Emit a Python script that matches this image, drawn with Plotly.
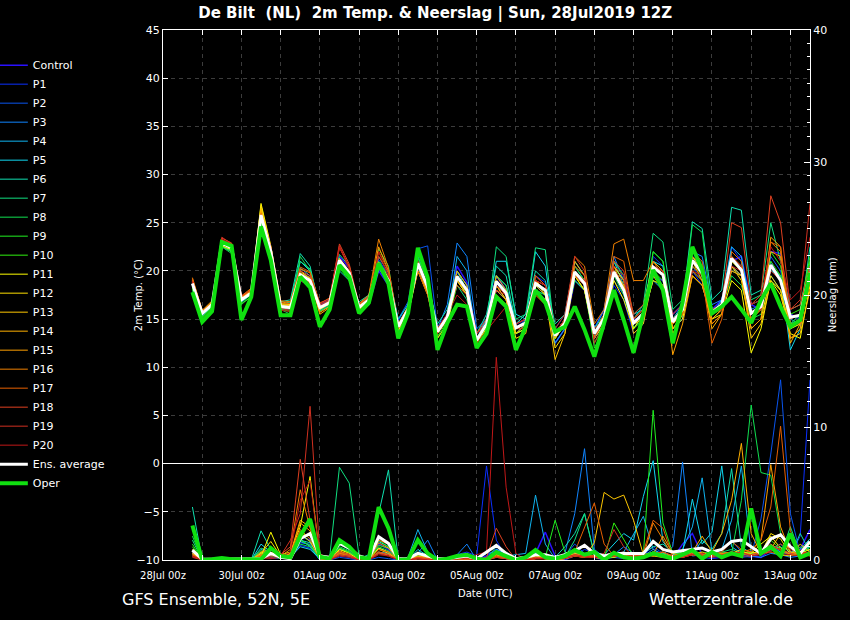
import plotly.graph_objects as go
import pandas as pd

# forecast steps, every 6 h from 28Jul 18Z to 13Aug 12Z
times = pd.date_range("2019-07-28 18:00", periods=64, freq="6h")

names = ["Control", "P1", "P2", "P3", "P4", "P5", "P6", "P7", "P8", "P9", "P10",
         "P11", "P12", "P13", "P14", "P15", "P16", "P17", "P18", "P19", "P20"]
colors = ["#2a10ff", "#0a30ff", "#0a55f0", "#1085ff", "#10b4f0", "#10d8f0", "#10e0b0",
          "#10e080", "#10e050", "#20f020", "#30f010", "#ffff00", "#ffe000", "#ffc800",
          "#ffb000", "#ffa000", "#f08000", "#e86000", "#e04020", "#d03020", "#c01818"]

# 2m temperature (C)
control_t = [18.8, 15.8,16.3,23.2,22.6, 17.2,17.5,25.6,22.3, 16.0,16.0,19.0,18.6, 16.5,17.0,21.5,20.3,
             16.0,16.5,20.0,18.5, 13.5,15.5,21.5,19.0, 14.0,15.5,20.5,18.8, 13.5,15.0,19.5,18.0,
             14.5,15.0,18.0,17.0, 12.5,14.0,19.0,18.0, 14.0,16.0,21.0,19.5, 15.0,15.0,19.5,19.0,
             15.5,16.5,21.5,20.5, 16.0,17.0,21.0,21.5, 16.5,16.0,22.0,21.8, 15.5,15.0,20.0]
p1_t = [18.6, 15.5,16.6,22.8,22.2, 16.8,17.9,25.9,21.8, 16.5,16.4,20.0,19.3, 15.8,16.4,20.5,19.2,
        16.6,17.4,21.2,19.6, 14.8,16.6,20.0,17.6, 13.0,14.6,19.8,18.6, 12.0,14.0,18.0,17.0,
        13.5,14.0,19.5,18.8, 14.0,15.5,21.0,19.5, 13.0,14.5,18.5,17.0, 13.5,14.5,21.5,20.5,
        14.0,15.0,20.0,18.5, 15.0,16.0,22.5,21.0, 15.0,17.0,21.0,19.0, 14.5,15.5,19.0]
p2_t = [18.9, 15.7,16.4,23.0,22.5, 17.0,17.6,25.5,22.1, 16.2,16.6,19.3,18.8, 16.0,16.5,20.8,19.5,
        16.4,17.2,20.8,19.3, 15.0,16.8,22.3,22.6, 14.0,15.0,19.0,17.5, 13.0,14.5,19.5,18.5,
        14.0,15.0,18.5,17.5, 13.5,15.0,20.5,19.0, 14.0,15.0,19.0,17.5, 15.0,16.0,21.0,20.0,
        14.5,15.5,20.5,19.0, 16.0,16.0,20.5,19.5, 15.5,16.5,21.5,20.0, 15.0,15.5,20.5]
p3_t = [18.5, 15.4,16.3,22.7,22.0, 16.9,17.8,25.7,21.9, 16.6,16.1,19.4,18.7, 16.0,16.9,21.0,19.6,
        16.3,17.0,20.3,18.6, 14.5,16.0,20.5,18.0, 14.0,16.5,22.9,21.5, 14.0,15.0,18.0,17.0,
        13.5,14.5,19.0,18.5, 13.0,14.5,20.5,19.0, 14.0,16.0,21.5,19.0, 14.5,15.0,19.5,18.5,
        15.0,16.0,22.0,21.5, 16.5,17.0,20.5,19.5, 16.0,16.5,19.5,18.0, 14.0,15.0,20.5]
p4_t = [18.7, 15.6,16.6,22.9,22.3, 17.1,17.7,25.9,22.2, 16.4,16.3,20.3,19.5, 15.9,16.3,20.9,19.4,
        16.1,16.8,20.3,18.8, 14.0,15.8,20.5,18.5, 13.5,15.0,21.5,20.0, 12.5,14.5,19.5,18.5,
        14.5,15.5,18.0,17.5, 12.5,14.0,19.5,18.5, 13.0,14.5,20.5,19.0, 14.0,15.5,19.0,18.0,
        14.0,15.0,21.0,20.0, 15.5,17.0,22.5,21.5, 15.5,16.0,20.5,19.0, 15.0,14.5,20.0]
p5_t = [18.6, 15.5,16.5,22.6,22.0, 16.9,17.8,25.4,21.7, 16.4,16.7,21.0,20.0, 16.4,16.8,20.5,19.3,
        16.5,17.3,20.9,19.2, 14.4,16.2,20.3,18.0, 13.8,15.5,20.0,18.5, 13.0,15.0,21.0,21.0,
        15.5,15.0,22.0,20.5, 13.5,14.5,20.0,19.0, 13.0,15.5,21.0,18.5, 15.5,16.0,21.0,20.5,
        15.0,16.5,21.5,20.0, 16.0,16.5,22.0,21.0, 16.5,17.0,20.0,19.5, 11.8,14.0,20.5]
p6_t = [18.5, 15.3,16.2,22.5,22.0, 16.7,17.6,25.2,21.5, 16.8,17.0,21.8,20.5, 16.0,16.5,20.0,19.0,
        16.8,17.5,21.5,19.8, 15.0,16.5,21.0,18.5, 14.5,16.0,20.0,18.0, 13.5,15.5,20.5,19.5,
        14.5,15.5,20.0,19.0, 14.5,15.5,21.0,19.5, 14.0,15.0,20.0,18.5, 15.0,16.5,21.0,20.0,
        15.5,16.5,25.1,24.4, 17.0,18.0,26.6,26.3, 17.5,18.0,20.5,19.5, 14.5,15.0,22.5]
p7_t = [18.4, 15.2,16.4,22.6,22.1, 16.8,17.5,25.3,21.6, 16.5,16.8,21.0,20.2, 16.3,16.6,21.7,20.5,
        16.3,16.9,21.0,19.5, 14.5,16.2,21.5,19.0, 13.5,15.0,18.5,17.0, 13.0,14.5,22.5,21.5,
        15.0,15.5,22.4,22.2, 13.0,14.5,19.0,18.0, 14.0,15.5,20.5,19.0, 15.5,16.5,23.9,23.0,
        16.0,17.0,21.0,19.5, 15.5,16.5,20.0,19.5, 17.0,17.5,25.0,21.0, 16.0,16.5,21.0]
p8_t = [18.0, 15.0,16.0,22.5,21.8, 16.5,17.4,25.0,21.3, 16.0,15.5,21.5,20.0, 16.2,16.5,20.6,19.4,
        16.4,17.1,22.3,20.5, 13.8,15.7,22.0,19.5, 13.5,15.0,19.5,18.0, 12.5,14.0,19.0,18.0,
        13.5,14.0,18.0,17.5, 13.5,15.0,19.0,18.0, 12.5,14.5,19.5,17.5, 14.0,15.0,22.0,21.0,
        15.0,16.0,24.8,24.0, 15.5,16.0,19.5,18.5, 15.0,15.5,19.0,18.0, 14.0,14.5,19.5]
p9_t = [18.2, 15.1,16.1,22.8,22.3, 17.0,17.5,25.1,21.6, 16.0,15.8,19.8,19.2, 15.8,16.4,20.3,19.0,
        15.8,16.5,20.5,18.9, 13.5,15.5,21.3,19.0, 13.0,14.5,18.5,17.5, 12.0,14.0,19.5,18.5,
        13.5,14.0,18.5,18.0, 13.0,15.0,20.5,19.0, 12.0,14.0,21.0,19.5, 14.0,15.0,22.0,21.0,
        14.0,15.5,22.0,21.0, 15.0,16.0,21.0,20.0, 15.0,16.0,22.0,20.5, 14.5,15.5,21.0]
p10_t = [18.3, 15.2,16.2,22.6,22.0, 16.6,17.3,25.5,21.8, 16.2,16.0,19.7,19.0, 16.1,16.6,21.0,19.9,
         16.0,16.7,20.7,19.0, 13.8,15.6,20.8,18.5, 13.2,14.8,19.0,17.8, 12.5,14.2,19.0,17.5,
         14.0,14.5,19.5,18.5, 13.0,14.5,19.5,18.0, 13.5,15.0,20.0,18.5, 14.5,15.5,20.0,19.0,
         14.5,16.0,20.5,19.5, 15.5,16.5,21.5,20.0, 15.5,16.5,21.0,19.5, 15.5,16.0,21.5]
p11_t = [18.8, 15.9,16.7,22.6,22.2, 17.3,18.0,27.0,22.6, 16.6,16.5,20.0,19.2, 16.0,16.6,20.5,19.3,
         16.3,17.1,20.4,18.8, 13.8,15.5,20.0,17.8, 13.5,15.0,19.0,17.5, 13.0,14.5,17.5,16.5,
         13.5,14.0,18.0,17.0, 13.0,14.5,19.5,18.0, 13.0,14.5,19.0,17.0, 14.0,15.5,19.0,18.5,
         14.0,15.0,19.5,18.5, 15.0,15.5,19.0,18.0, 11.5,14.0,19.0,17.5, 13.5,13.0,18.5]
p12_t = [18.9, 15.8,16.6,23.1,22.6, 17.2,17.9,26.8,22.4, 16.5,16.4,19.5,18.8, 16.3,16.9,21.3,20.0,
         16.4,17.2,20.9,19.3, 14.3,16.0,20.0,17.5, 13.0,14.5,19.0,17.5, 12.5,14.0,18.5,17.0,
         13.0,13.5,19.0,17.5, 12.0,13.5,19.5,18.0, 13.5,15.0,20.5,19.0, 14.5,15.0,19.5,18.5,
         13.5,15.5,21.5,20.0, 15.0,16.0,20.5,19.0, 14.0,15.0,19.5,18.0, 14.0,14.5,19.0]
p13_t = [18.9, 15.7,16.7,22.9,22.4, 17.1,17.8,26.5,22.2, 16.4,16.3,19.2,18.5, 16.1,16.6,21.0,19.7,
         16.0,16.9,20.5,18.9, 14.0,15.8,20.5,18.0, 13.5,15.0,19.5,18.0, 13.0,14.5,18.5,17.0,
         13.5,14.5,18.5,17.5, 10.8,13.5,20.0,19.0, 13.5,15.0,20.0,18.5, 13.5,14.5,19.5,18.0,
         14.5,15.5,20.0,19.0, 14.5,15.5,20.5,19.5, 13.0,14.5,19.0,18.0, 13.0,13.5,18.0]
p14_t = [19.0, 15.8,16.8,23.0,22.5, 17.2,18.0,26.3,22.0, 16.6,16.4,19.5,19.0, 15.5,16.2,20.8,19.5,
         16.0,16.8,20.9,19.2, 14.5,16.3,20.0,17.8, 14.0,15.5,20.0,18.5, 13.0,14.5,19.5,18.0,
         14.0,14.5,19.0,18.0, 13.0,14.5,21.0,19.5, 13.5,15.5,20.5,18.0, 15.0,16.0,21.0,20.0,
         14.0,15.5,21.0,19.0, 14.0,15.5,21.0,20.0, 15.0,16.0,22.0,21.5, 12.5,14.5,20.0]
p15_t = [19.1, 15.9,16.9,22.8,22.3, 17.2,17.9,26.1,22.3, 16.8,16.6,19.8,19.3, 15.7,16.3,21.2,19.9,
         16.5,17.4,22.5,20.0, 14.0,15.8,20.5,18.5, 13.5,15.0,19.0,17.8, 13.0,14.5,18.0,17.0,
         14.0,14.5,17.5,16.5, 13.5,14.5,19.5,19.0, 13.0,15.0,20.0,18.5, 14.5,15.5,20.5,19.5,
         11.3,14.5,19.5,18.5, 15.0,16.0,20.0,19.5, 14.0,15.0,23.5,22.5, 13.0,14.0,19.5]
p16_t = [19.3, 15.9,16.7,23.2,22.8, 17.4,18.2,26.0,22.5, 16.9,16.8,20.2,19.8, 16.3,16.9,20.7,19.6,
         16.6,17.5,23.3,20.3, 14.5,16.2,20.5,18.0, 13.8,15.2,19.5,18.0, 13.0,14.5,19.0,17.5,
         14.5,15.0,19.0,18.5, 13.5,15.0,21.5,20.5, 14.5,16.0,22.8,23.3, 19.0,19.0,21.0,19.5,
         14.5,15.5,21.5,20.5, 14.5,15.5,21.5,20.5, 15.5,16.5,23.0,22.0, 14.5,14.5,19.0]
p17_t = [19.2, 15.8,16.6,23.0,22.6, 17.3,18.1,25.9,22.4, 16.7,16.6,20.4,19.9, 16.6,17.2,22.4,20.5,
         16.3,17.2,22.0,20.0, 14.3,16.0,20.0,17.5, 13.5,15.0,19.5,18.0, 13.5,15.0,18.5,17.5,
         14.0,14.5,19.5,18.5, 13.5,15.0,20.5,19.5, 13.5,15.5,21.5,21.0, 15.0,16.0,20.5,20.0,
         14.5,15.5,20.5,19.5, 12.5,15.0,22.0,21.0, 15.0,16.0,23.0,22.5, 15.0,15.5,20.0]
p18_t = [19.0, 15.7,16.5,23.4,22.9, 17.4,18.0,25.7,22.5, 16.3,16.2,20.0,19.5, 16.7,17.1,22.8,20.7,
         16.5,17.3,21.5,19.8, 14.5,16.0,20.5,18.0, 14.0,15.5,18.5,17.5, 13.5,14.5,18.0,17.5,
         14.0,14.0,19.5,18.5, 13.5,15.0,19.5,18.5, 13.0,15.0,21.0,20.0, 15.5,16.5,20.5,19.5,
         15.0,16.0,22.0,21.0, 15.5,16.5,25.0,24.5, 16.5,17.5,27.8,25.0, 16.0,16.5,20.5]
p19_t = [18.8, 15.6,16.4,23.5,22.8, 17.1,17.7,25.5,22.0, 16.1,15.9,19.2,18.7, 16.5,17.0,22.6,20.3,
         16.1,16.9,20.8,19.0, 14.0,15.6,21.0,18.5, 13.5,15.0,19.5,18.0, 13.5,14.5,18.5,17.5,
         14.0,14.5,19.0,18.5, 14.0,15.5,21.5,20.0, 12.5,14.5,20.0,19.0, 15.0,16.0,20.5,20.0,
         15.5,16.5,21.0,20.0, 16.0,16.5,21.5,20.5, 15.5,16.0,20.0,19.0, 16.0,17.0,27.0]
p20_t = [18.9, 15.7,16.5,23.3,22.7, 17.0,17.6,25.6,22.1, 15.9,15.8,19.0,18.4, 16.4,16.8,22.5,20.2,
         16.2,17.0,22.0,19.4, 14.2,15.8,20.5,18.5, 14.0,15.5,17.5,16.5, 12.5,13.8,15.0,16.3,
         14.5,15.0,19.0,18.5, 13.5,15.0,20.0,19.0, 14.0,15.0,20.5,19.5, 14.5,15.5,20.5,19.5,
         15.0,16.0,20.0,19.5, 15.5,16.0,20.5,20.0, 16.5,17.0,22.5,21.0, 17.0,18.0,23.5]
ens_avg_t = [18.7, 15.6,16.5,22.9,22.4, 17.0,17.7,25.8,22.0, 16.3,16.2,19.6,19.0, 16.2,16.7,21.1,19.8,
             16.2,17.0,20.6,19.0, 14.2,16.0,20.8,18.3, 13.7,15.2,19.4,18.0, 12.8,14.5,18.9,17.7,
             14.1,14.6,18.7,18.0, 13.3,14.6,19.9,18.7, 13.5,15.1,19.9,18.0, 14.6,15.6,20.4,19.6,
             14.7,16.0,21.1,19.8, 15.7,16.5,21.3,20.1, 15.6,16.3,20.6,19.0, 15.2,15.4,19.8]
oper_t = [17.8, 14.7,15.8,23.0,22.6, 14.9,17.3,24.6,21.1, 15.4,15.4,19.4,18.3, 14.2,16.0,20.6,19.4,
          15.6,16.7,20.8,18.7, 13.0,15.6,22.4,19.3, 11.8,14.6,16.5,16.3, 12.0,13.5,17.3,16.3,
          11.8,14.2,18.0,16.7, 13.7,14.2,16.3,13.9, 11.1,14.6,18.0,14.9, 11.5,15.6,20.1,18.0,
          12.5,16.7,22.5,20.1, 15.6,16.3,17.3,16.0, 14.6,17.0,18.7,16.3, 14.2,14.9,19.8]

# precipitation (mm)
control_p = [0.6, 0,0,0,0, 0,0,0.4,0.3, 0.2,0.4,1.8,1.5, 0.2,0,0.8,0.6, 0.1,0,1.2,0.8, 0,0,0.3,0.1,
             0,0,0.2,0.1, 0,0.3,0.8,0.4, 0,0.1,0.5,2.1, 0.3,0,0.5,0.3, 0.2,0,0.4,0.6, 0.3,0.2,0.6,0.3,
             0.1,1.2,2.0,0.4, 0.2,0.3,0.6,0.4, 0.3,0.2,0.8,0.5, 0.6,0.8,2.3]
p1_p = [0.3, 0,0,0,0, 0,0,0.6,0.2, 0.1,0.2,1.1,0.9, 0,0,0.3,0.2, 0,0,0.5,0.4, 0,0,0.2,0,
        0,0,0.4,0.6, 0.3,7.1,1.5,0.2, 0,0,0.2,0.4, 0,0,0.3,0.8, 0.5,0.1,0.2,0.3, 0.2,0.4,1.0,0.5,
        0.2,0.3,0.5,0.2, 0.1,0.2,0.4,0.3, 0.2,0.5,1.2,0.6, 0.4,1.8,13.6]
p2_p = [0.5, 0,0,0,0.1, 0,0,0.3,0.1, 0.2,0.3,1.3,1.2, 0,0,0.2,0.1, 0,0,0.2,0.1, 0,0,0.1,0,
        0,0,0.1,0.2, 0,0,0.4,0.1, 0,0,0.3,0.2, 0,0.3,1.2,0.5, 0.2,0.4,0.2,0.1, 0.3,0.6,0.4,0.2,
        0.2,0.5,0.8,0.3, 0.4,0.8,1.5,0.6, 0.4,3.1,8.0,13.6, 3.5,0.5,1.0]
p3_p = [0.4, 0,0,0,0, 0,0,0.5,0.4, 0.3,0.2,1.6,1.0, 0.1,0,0.4,0.3, 0,0,0.6,0.5, 0,0,0.5,1.5,
        0,0,0.4,1.2, 0,0.5,0.6,0.2, 0,0,0.3,0.1, 0,0.5,3.5,8.4, 0.8,0.2,0.4,1.0, 0.5,0.3,0.8,0.4,
        1.0,7.4,0.3,0.4, 0.2,0.5,0.6,0.2, 0.3,0.2,0.5,0.4, 0.2,0.3,0.5]
p4_p = [0.5, 0,0,0,0, 0,0,0.8,0.5, 0.2,0.3,1.4,1.1, 0,0,0.6,0.4, 0,0,0.9,0.6, 0,0.2,2.3,0.6,
        0,0,0.2,0.1, 0,0.2,0.5,0.3, 0.4,0.5,4.9,1.2, 0.1,0.3,0.6,0.4, 0.2,0.1,0.3,0.6, 2.0,3.3,0.8,0.4,
        0.3,0.8,2.5,6.2, 0.6,0.8,3.0,7.1, 0.5,0.4,1.0,0.6, 0.4,0.6,1.2]
p5_p = [0.7, 0,0,0,0, 0,0,1.2,0.6, 0.1,0.2,1.0,0.8, 0.1,0,0.9,0.6, 0,0,1.4,1.0, 0,0,0.8,0.3,
        0,0,0.2,0.3, 0,0,0.8,0.5, 0,0.2,0.6,0.3, 0,0.1,0.4,0.5, 0.6,0.4,1.2,2.0, 1.5,4.8,7.5,1.4,
        0.4,0.6,4.6,1.2, 2.1,7.1,1.0,0.5, 0.3,0.6,0.8,1.2, 0.5,0.8,1.6]
p6_p = [4.0, 0,0,0,0, 0,0,2.2,0.8, 0.3,0.2,1.5,1.3, 0.2,0.1,1.2,0.8, 0.1,0.4,3.5,6.8, 0,0.1,0.4,0.2,
        0,0,0.3,0.2, 0,0,0.6,0.4, 0,0.1,0.5,0.3, 0.2,1.0,2.0,3.5, 0.5,0.2,0.4,0.6, 0.3,0.5,1.0,1.2,
        0.6,0.3,0.4,1.5, 0.8,2.0,6.9,1.0, 0.5,0.4,0.8,1.0, 0.3,2.0,0.6]
p7_p = [1.5, 0,0,0,0, 0,0,0.9,0.6, 0.2,0.3,1.9,1.4, 0.3,0.2,7.0,5.8, 0.3,0,1.8,1.2, 0,0,0.6,0.3,
        0,0,0.3,0.2, 0,0.1,1.0,0.6, 0,0,0.4,0.3, 0.1,0.2,1.5,3.5, 0.4,0.1,0.2,0.4, 0.2,0.3,0.6,0.5,
        0.3,0.5,0.8,0.4, 0.4,0.6,0.8,0.5, 0.3,0.5,0.6,0.4, 2.5,0.5,1.0]
p8_p = [1.8, 0,0,0,0, 0,0,0.6,0.4, 0.2,0.2,1.2,1.0, 0.1,0,1.0,0.7, 0,0,1.0,0.7, 0,0,0.4,0.2,
        0,0,0.1,0.1, 0,0,0.5,0.3, 0,0,0.3,0.2, 0.1,0.3,0.8,0.4, 0.3,0.2,0.6,0.4, 0.3,0.4,0.5,0.6,
        0.2,0.4,0.6,0.3, 0.4,0.6,0.5,4.5, 11.7,6.6,6.4,2.0, 0.5,0.3,1.0]
p9_p = [1.2, 0,0,0,0, 0,0,0.5,0.3, 0.1,0.2,1.5,1.1, 0.2,0.1,0.8,0.6, 0.1,0,1.5,1.0, 0,0,0.3,0.2,
        0,0,0.2,0.3, 0,0.1,0.5,0.3, 0,0.1,0.4,0.2, 3.0,0.6,0.4,0.3, 0.3,0.2,0.5,0.3, 0.1,0.4,11.3,2.8,
        0.5,0.4,0.5,0.6, 0.5,0.4,0.6,0.3, 0.6,0.5,0.8,0.4, 0.3,1.0,0.6]
p10_p = [1.0, 0,0,0,0, 0,0,0.7,0.4, 0.2,0.3,2.2,1.6, 0.2,0,0.9,0.6, 0,0,1.1,0.9, 0,0,0.5,0.2,
         0,0,0.3,0.2, 0,0,0.7,0.3, 0,0,0.2,0.3, 0.2,0.4,0.6,0.3, 0.2,0.1,2.8,1.5, 0.3,0.4,0.6,0.4,
         0.3,0.6,0.5,0.3, 0.3,0.5,0.4,0.6, 0.5,0.6,1.5,0.8, 0.4,0.5,1.2]
p11_p = [0.8, 0,0,0,0, 0,0,0.3,2.1, 0.4,0.6,2.5,6.3, 0.3,0,0.8,0.5, 0,0,0.9,0.6, 0,0,0.2,0.1,
         0,0,0.1,0.1, 0,0,0.4,0.2, 0,0,0.2,0.1, 0,0.2,0.4,0.3, 0.2,0.1,0.3,0.2, 0.3,0.2,0.5,0.4,
         0.2,0.3,0.5,0.3, 0.3,0.4,0.5,0.6, 0.5,1.2,1.8,0.9, 0.4,0.5,0.8]
p12_p = [0.6, 0,0,0,0, 0,0,0.5,1.4, 0.3,0.4,1.8,2.0, 0.2,0,0.6,0.4, 0,0,0.8,0.5, 0,0,0.3,0.2,
         0,0,0.2,0.1, 0,0,0.5,0.3, 0,0,0.1,0.2, 0.1,0.2,0.5,0.3, 0.2,0.3,0.2,0.4, 0.2,0.4,0.3,0.6,
         0.3,0.2,0.5,0.4, 0.4,0.3,0.5,0.8, 0.6,0.5,2.0,1.6, 0.4,1.2,0.6]
p13_p = [0.5, 0,0,0,0, 0,0,0.4,0.9, 0.2,0.5,2.0,1.4, 0.1,0,0.5,0.3, 0,0,0.6,0.4, 0,0,0.1,0.1,
         0,0,0.1,0, 0,0,0.3,0.2, 0,0,0.2,0.1, 0,0.1,0.3,0.2, 1.3,5.1,4.6,4.9, 3.0,0.4,0.3,0.2,
         0.2,0.3,0.6,0.4, 0.3,0.5,0.4,0.6, 0.4,0.6,0.8,2.0, 0.6,0.4,0.5]
p14_p = [0.4, 0,0,0,0, 0,0,0.6,0.8, 0.3,0.5,3.0,2.5, 0.2,0,0.4,0.3, 0,0,0.5,0.4, 0,0,0.2,0.1,
         0,0,0.1,0.1, 0,0,0.2,0.1, 0,0,0.3,0.2, 0.1,0.2,0.4,0.3, 0.2,0.2,0.3,0.5, 0.4,0.3,0.6,0.4,
         0.2,0.4,0.6,1.8, 0.6,2.0,4.5,8.8, 2.0,0.5,0.6,0.4, 0.3,0.6,0.4]
p15_p = [0.5, 0,0,0,0, 0,0,0.3,0.5, 0.2,0.4,2.8,2.2, 0.3,0.1,0.7,0.4, 0,0,1.3,0.9, 0,0,0.3,0.2,
         0,0,0.2,0.1, 0,0,0.4,0.2, 0,0,0.1,0.1, 0,0.1,0.3,0.2, 0.3,0.2,0.4,0.3, 0.2,0.3,0.4,1.8,
         0.5,0.3,0.4,0.6, 0.3,0.4,0.5,0.6, 0.8,1.5,7.2,2.5, 0.6,0.5,0.3]
p16_p = [0.3, 0,0,0,0, 0,0,0.4,0.6, 0.3,0.8,5.3,2.4, 0.2,0,0.5,0.4, 0,0,1.5,1.2, 0,0,0.2,0.1,
         0,0,0.1,0.1, 0,0,0.3,0.1, 0,0,0.2,0.1, 0.2,0.3,0.6,0.4, 0.3,0.2,0.5,0.6, 0.4,0.3,2.8,1.5,
         0.3,0.2,0.4,0.3, 0.3,0.5,0.6,0.5, 0.4,0.6,1.2,0.7, 0.4,0.3,0.6]
p17_p = [0.4, 0,0,0,0, 0,0,0.3,0.4, 0.2,0.4,2.3,1.6, 0.1,0,0.4,0.3, 0,0,0.8,0.6, 0,0,0.1,0.1,
         0,0,0.1,0, 0,0.1,0.3,0.2, 0,0,0.2,0.1, 0.2,0.3,0.6,2.5, 4.3,1.2,0.3,0.5, 0.4,0.6,3.0,2.4,
         0.3,0.5,0.4,0.3, 0.4,0.6,1.4,0.8, 0.6,1.5,4.0,10.1, 2.2,0.6,0.4]
p18_p = [0.3, 0,0,0,0, 0,0,0.2,0.3, 0.4,1.0,7.6,3.0, 0.2,0,0.6,0.4, 0,0,0.6,0.4, 0,0,0.2,0.1,
         0,0,0.1,0.1, 0,0.2,2.4,1.0, 0,0,0.2,0.1, 0.1,0.2,0.4,0.3, 0.2,0.3,0.6,0.4, 0.3,0.4,0.5,0.6,
         0.3,0.2,0.4,0.5, 0.3,0.4,0.6,0.5, 0.4,0.6,1.0,0.8, 0.5,0.4,0.6]
p19_p = [0.2, 0,0,0,0, 0,0,0.2,0.2, 0.3,1.5,3.5,11.6, 0.5,0,0.4,0.3, 0,0,0.5,0.3, 0,0,0.1,0,
         0,0,0.1,0.1, 0,0,0.2,0.1, 0,0,0.1,0.1, 0.1,0.2,0.4,0.3, 0.3,0.5,2.3,1.0, 0.2,0.3,0.4,0.3,
         0.2,0.3,0.5,0.4, 0.3,0.4,0.5,0.6, 0.3,0.5,0.7,1.2, 0.8,0.5,0.6]
p20_p = [0.3, 0,0,0,0, 0,0,0.1,0.1, 0.2,0.6,4.5,6.0, 0.3,0,0.3,0.2, 0,0,0.4,0.3, 0,0,0.1,0,
         0,0,0.1,0.2, 0.4,0.6,15.3,5.5, 0.5,0,0.1,0.1, 0.1,0.1,0.3,0.2, 0.2,0.1,0.3,0.2, 0.2,0.3,0.4,0.3,
         0.2,0.2,0.4,0.3, 0.2,0.3,0.4,0.3, 0.3,0.4,0.6,0.5, 0.4,0.3,0.5]
ens_avg_p = [0.75, 0.05,0.05,0.05,0.05, 0.05,0.05,0.1,0.5, 0.2,0.1,1.6,2.0, 0.3,0.2,1.25,0.9,
             0.3,0.1,1.75,1.25, 0.1,0.1,0.5,0.3, 0.1,0.1,0.2,0.3, 0.1,0.6,1.1,0.5, 0.1,0.2,0.4,0.4,
             0.2,0.4,0.7,1.1, 0.5,0.3,0.5,0.5, 0.5,0.5,1.4,0.8, 0.6,0.7,0.8,0.9, 0.6,0.8,1.4,1.5,
             1.0,0.5,1.6,1.9, 1.0,0.5,1.4]
oper_p = [2.6, 0,0.05,0.15,0.05, 0.05,0,0.05,0.9, 0.3,0.2,1.8,3.1, 0.25,0.1,1.5,1.0, 0.2,0.1,4.0,2.4,
          0,0.05,1.5,0.5, 0,0.1,0.3,0.4, 0.1,0,0.6,0.3, 0,0.2,0.75,0.2, 0.1,0.3,0.75,0.4,
          0.6,0,0.55,0.2, 0.1,0.2,0.5,0.3, 0.1,0.4,0.75,0.1, 0.6,0.2,0.5,0.3, 3.9,0.5,1.0,0.3,
          2.0,0.2,0.5]

temps = [control_t, p1_t, p2_t, p3_t, p4_t, p5_t, p6_t, p7_t, p8_t, p9_t, p10_t,
         p11_t, p12_t, p13_t, p14_t, p15_t, p16_t, p17_t, p18_t, p19_t, p20_t]
precs = [control_p, p1_p, p2_p, p3_p, p4_p, p5_p, p6_p, p7_p, p8_p, p9_p, p10_p,
         p11_p, p12_p, p13_p, p14_p, p15_p, p16_p, p17_p, p18_p, p19_p, p20_p]

grid = "#3c3c3c"
fig = go.Figure()

for name, col, t in zip(names, colors, temps):
    fig.add_trace(go.Scatter(x=times, y=t, mode="lines", name=name, legendgroup=name,
                             line=dict(color=col, width=1.5 if name == "Control" else 1)))
for name, col, p in zip(names, colors, precs):
    fig.add_trace(go.Scatter(x=times, y=p, mode="lines", name=name, legendgroup=name,
                             showlegend=False, yaxis="y2",
                             line=dict(color=col, width=1.5 if name == "Control" else 1)))

fig.add_trace(go.Scatter(x=times, y=ens_avg_t, mode="lines", name="Ens. average",
                         legendgroup="ens", line=dict(color="white", width=3)))
fig.add_trace(go.Scatter(x=times, y=ens_avg_p, mode="lines", name="Ens. average",
                         legendgroup="ens", showlegend=False, yaxis="y2",
                         line=dict(color="white", width=3)))
fig.add_trace(go.Scatter(x=times, y=oper_t, mode="lines", name="Oper",
                         legendgroup="oper", line=dict(color="#10e010", width=4)))
fig.add_trace(go.Scatter(x=times, y=oper_p, mode="lines", name="Oper",
                         legendgroup="oper", showlegend=False, yaxis="y2",
                         line=dict(color="#10e010", width=4)))

fig.update_layout(
    width=850, height=620,
    paper_bgcolor="black", plot_bgcolor="black",
    margin=dict(l=163, r=40, t=30, b=60, autoexpand=False),
    font=dict(family="DejaVu Sans", color="white", size=11),
    title=dict(text="<b>De Bilt  (NL)  2m Temp. & Neerslag | Sun, 28Jul2019 12Z</b>",
               x=0.512, xanchor="center", y=0.979, yanchor="middle",
               font=dict(size=15, color="white")),
    legend=dict(x=-0.263, y=0.961, xanchor="left", yanchor="top",
                bgcolor="rgba(0,0,0,0)", font=dict(size=11, color="white"),
                itemwidth=30, tracegroupgap=0),
    showlegend=True,
    xaxis=dict(type="date", range=["2019-07-28 00:00", "2019-08-13 12:00"],
               tick0="2019-07-28", dtick=2 * 86400000, tickformat="%d%b %Hz",
               ticks="inside", ticklen=5, tickcolor="white", ticklabelstandoff=6,
               showline=True, linecolor="white", mirror="ticks",
               showgrid=True, gridcolor=grid, griddash="4px,4px",
               tickfont=dict(size=10),
               minor=dict(dtick=86400000, showgrid=True, gridcolor=grid, griddash="4px,4px",
                          ticks="inside", ticklen=5, tickcolor="white")),
    yaxis=dict(range=[-10, 45], dtick=5, ticks="inside", ticklen=5, tickcolor="white",
               showline=True, linecolor="white",
               showgrid=True, gridcolor=grid, griddash="4px,4px",
               zeroline=True, zerolinecolor="white", zerolinewidth=1,
               tickfont=dict(size=11)),
    yaxis2=dict(range=[0, 40], dtick=10, overlaying="y", side="right",
                ticks="inside", ticklen=6, tickcolor="white",
                showline=True, linecolor="white", showgrid=False, zeroline=False,
                tickfont=dict(size=11),
                minor=dict(dtick=1, ticks="inside", ticklen=3, tickcolor="white")),
    annotations=[
        dict(text="2m Temp. (°C)", xref="paper", yref="paper", x=-0.05, y=0.5,
             textangle=-90, showarrow=False, font=dict(size=10)),
        dict(text="Neerslag (mm)", xref="paper", yref="paper", x=1.046, y=0.5,
             textangle=-90, showarrow=False, font=dict(size=10)),
        dict(text="Date (UTC)", xref="paper", yref="paper", x=0.499, y=-0.077,
             showarrow=False, font=dict(size=10)),
        dict(text="GFS Ensemble, 52N, 5E", xref="paper", yref="paper", x=-0.067, y=-0.097,
             xanchor="left", showarrow=False, font=dict(size=16)),
        dict(text="Wetterzentrale.de", xref="paper", yref="paper", x=0.977, y=-0.097,
             xanchor="right", showarrow=False, font=dict(size=16)),
    ],
)

fig.write_html("out.html", config={"displayModeBar": False},
               post_script="document.body.style.margin='0';document.body.style.background='black';")
